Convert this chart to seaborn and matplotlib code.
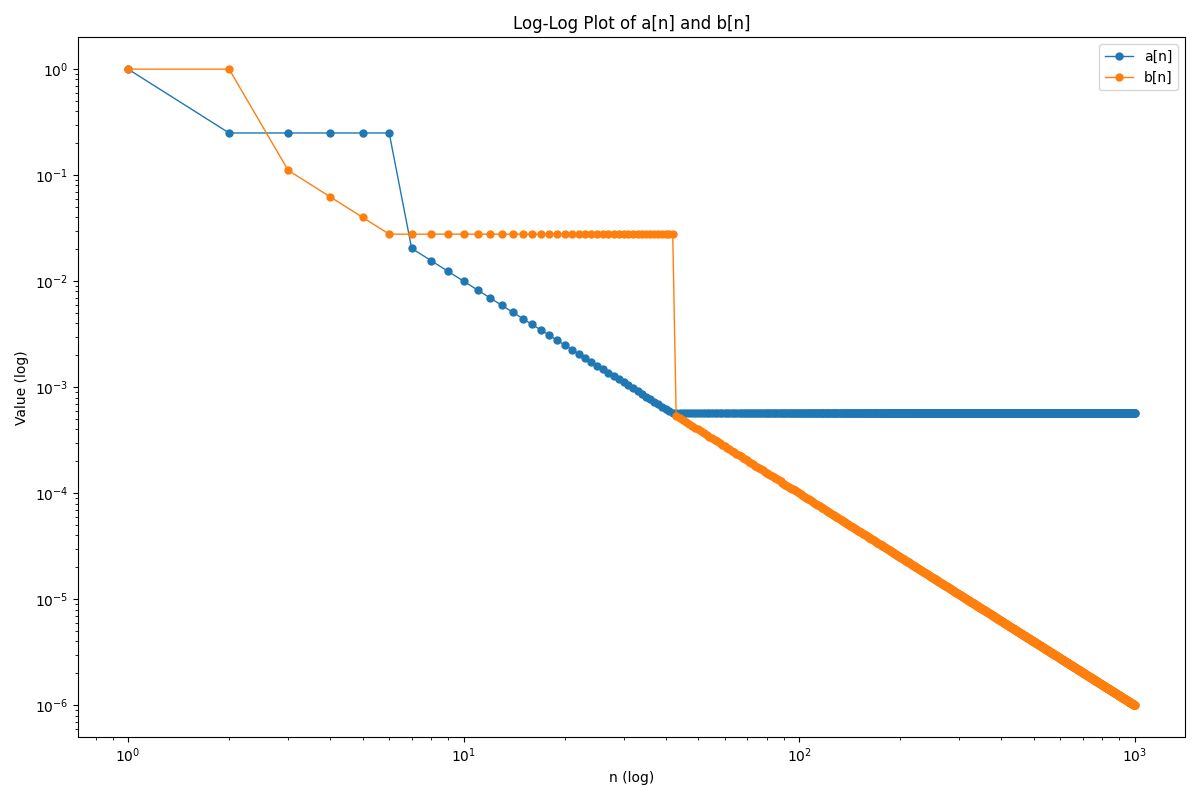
import numpy as np
import pandas as pd
import matplotlib
matplotlib.use("Agg")
import matplotlib.pyplot as plt
import seaborn as sns

# ==========================
# Data: sequences a[n], b[n] for n = 1..1000
# ==========================
n_values = np.arange(1, 1001)

# a[n]: 1, then 0.25 for n=2..6, then 1/n^2 for n=7..42, then flat at 1/42^2
a_head = [1.0, 0.25, 0.25, 0.25, 0.25, 0.25]
a_flat_from = 42

# b[n]: 1, 1, then 1/n^2 for n=3..6, flat at 1/36 for n=7..42, then 1/n^2
b_head = [1.0, 1.0]
b_flat_range = (7, 42)
b_flat_value = 1 / 36

a_values = []
b_values = []
for n in n_values:
    if n <= len(a_head):
        a_values.append(a_head[n - 1])
    elif n <= a_flat_from:
        a_values.append(1 / n ** 2)
    else:
        a_values.append(1 / a_flat_from ** 2)

    if n <= len(b_head):
        b_values.append(b_head[n - 1])
    elif b_flat_range[0] <= n <= b_flat_range[1]:
        b_values.append(b_flat_value)
    else:
        b_values.append(1 / n ** 2)

df = pd.DataFrame({"n": n_values, "a": a_values, "b": b_values})

# ==========================
# Plot
# ==========================
fig, ax = plt.subplots(figsize=(12, 8), dpi=100)

sns.lineplot(x="n", y="a", data=df, ax=ax, marker="o", markersize=5,
             markeredgecolor="#1f77b4", markeredgewidth=1, linewidth=1,
             color="#1f77b4", label="a[n]")
sns.lineplot(x="n", y="b", data=df, ax=ax, marker="o", markersize=5,
             markeredgecolor="#ff7f0e", markeredgewidth=1, linewidth=1,
             color="#ff7f0e", label="b[n]")

ax.set_xscale("log")
ax.set_yscale("log")

ax.set_title("Log-Log Plot of a[n] and b[n]")
ax.set_xlabel("n (log)")
ax.set_ylabel("Value (log)")
ax.legend(loc="upper right")

plt.tight_layout()
plt.savefig("out.png")
